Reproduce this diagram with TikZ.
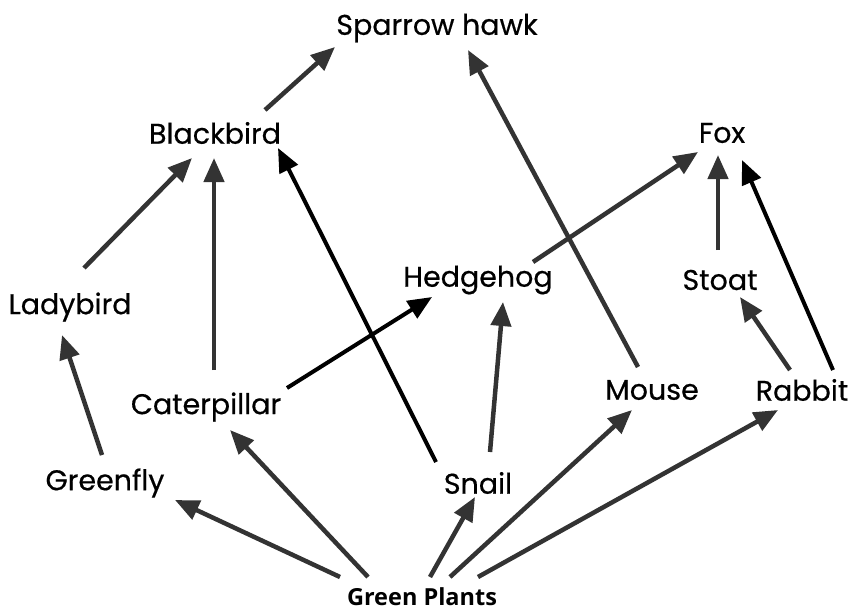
\documentclass[tikz,border=0pt]{standalone}
\usepackage{fontspec}
\setmainfont{Poppins}[FakeBold=0.5]
\newfontfamily\gpfont{Open Sans}
\usetikzlibrary{arrows.meta}
\definecolor{lg}{HTML}{333333}
\tikzset{
  lbl/.style={inner sep=0pt, font=\fontsize{28.5}{30}\selectfont},
  gplbl/.style={inner sep=0pt, font=\gpfont\bfseries\fontsize{23.5}{26}\selectfont},
  arr/.style={draw=lg, line width=4.5pt, -{Triangle[length=24pt,width=20pt]}},
  barr/.style={arr, draw=black, line width=4pt}
}
\begin{document}
\begin{tikzpicture}[x=1pt,y=-1pt]
\useasboundingbox[fill=white] (0,0) rectangle (848,610);
\node[lbl] (sh) at (437,28) {Sparrow hawk};
\node[lbl] (bb) at (215,133) {Blackbird};
\node[lbl] (fox) at (722,133) {Fox};
\node[lbl] (lady) at (70,307) {Ladybird};
\node[lbl] (hh) at (478,280) {Hedgehog};
\node[lbl] (stoat) at (720,280) {Stoat};
\node[lbl] (cat) at (206,407) {Caterpillar};
\node[lbl] (mouse) at (652,390) {Mouse};
\node[lbl] (rabbit) at (802,390) {Rabbit};
\node[lbl] (gf) at (105,483) {Greenfly};
\node[lbl] (snail) at (478,483) {Snail};
\node[gplbl] (gp) at (422,597) {Green Plants};

\draw[arr] ([shift={(50,-23)}]bb.center) -- ([shift={(-102,19)}]sh.center);
\draw[arr] ([shift={(-14,-23)}]mouse.center) -- ([shift={(31,22)}]sh.center);
\draw[arr] ([shift={(14,-39)}]lady.center) -- ([shift={(-23,25)}]bb.center);
\draw[arr] ([shift={(8,-37)}]cat.center) -- ([shift={(-1,25)}]bb.center);
\draw[barr] ([shift={(-42,-21)}]snail.center) -- ([shift={(63,15)}]bb.center);
\draw[barr] ([shift={(81,-19)}]cat.center) -- ([shift={(-46,17)}]hh.center);
\draw[arr] ([shift={(55,-18)}]hh.center) -- ([shift={(-24,19)}]fox.center);
\draw[arr] ([shift={(-2,-30)}]stoat.center) -- ([shift={(-4,22)}]fox.center);
\draw[barr] ([shift={(31,-20)}]rabbit.center) -- ([shift={(20,27)}]fox.center);
\draw[arr] ([shift={(-12,-20)}]rabbit.center) -- ([shift={(20,17)}]stoat.center);
\draw[arr] ([shift={(-3,-28)}]gf.center) -- ([shift={(-8,28)}]lady.center);
\draw[arr] ([shift={(12,-31)}]snail.center) -- ([shift={(25,22)}]hh.center);
\draw[arr] ([shift={(-82,-20)}]gp.center) -- ([shift={(70,17)}]gf.center);
\draw[arr] ([shift={(-54,-20)}]gp.center) -- ([shift={(24,23)}]cat.center);
\draw[arr] ([shift={(8,-20)}]gp.center) -- ([shift={(-3,14)}]snail.center);
\draw[arr] ([shift={(28,-20)}]gp.center) -- ([shift={(-20,20)}]mouse.center);
\draw[arr] ([shift={(56,-20)}]gp.center) -- ([shift={(-24,20)}]rabbit.center);
\end{tikzpicture}
\end{document}
